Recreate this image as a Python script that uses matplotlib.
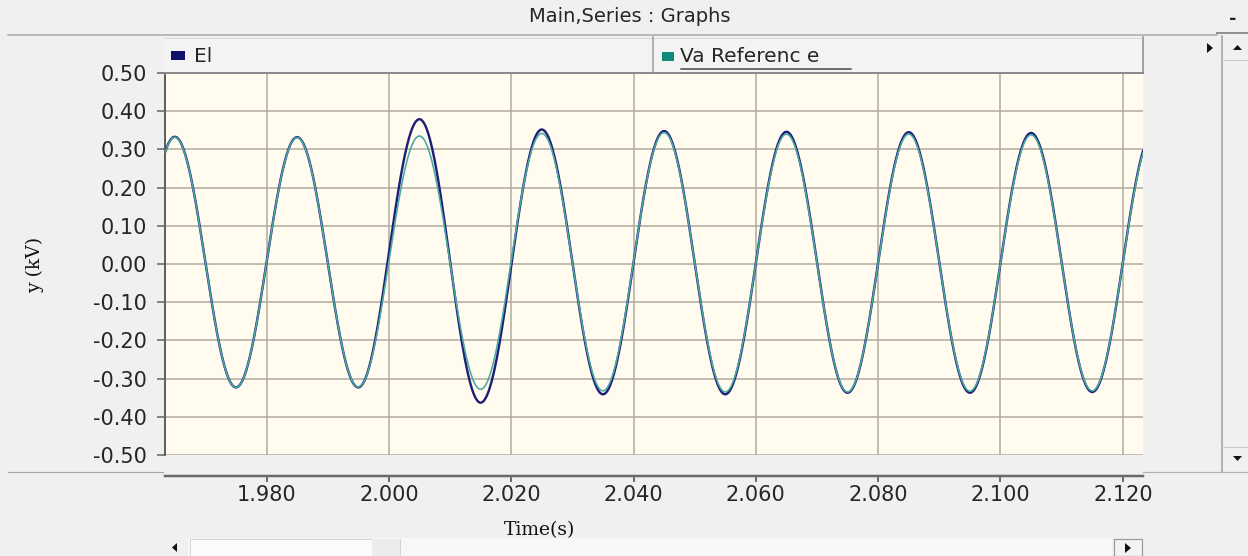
import numpy as np
import matplotlib
matplotlib.use("Agg")
import matplotlib.pyplot as plt
from matplotlib.patches import Rectangle, Polygon
from matplotlib.lines import Line2D

# ---------------- data ----------------
title = "Main,Series : Graphs"
series_names = ["El", "Va Referenc e"]
# times of the successive extrema (s) and their values (kV)
ext_t = [1.955, 1.965, 1.975, 1.985, 1.995, 2.005, 2.015, 2.025, 2.035,
         2.045, 2.055, 2.065, 2.075, 2.085, 2.095, 2.105, 2.115, 2.125]
el_ext = [-0.330, 0.333, -0.323, 0.332, -0.323, 0.379, -0.363, 0.352, -0.341,
          0.348, -0.341, 0.346, -0.337, 0.345, -0.337, 0.343, -0.335, 0.343]
va_ext = [-0.330, 0.332, -0.323, 0.331, -0.322, 0.335, -0.328, 0.342, -0.332,
          0.344, -0.335, 0.340, -0.335, 0.340, -0.333, 0.338, -0.332, 0.338]
x_ticks = [1.98, 2.00, 2.02, 2.04, 2.06, 2.08, 2.10, 2.12]
y_ticks = [0.5, 0.4, 0.3, 0.2, 0.1, 0.0, -0.1, -0.2, -0.3, -0.4, -0.5]
x_range = (1.9634, 2.1233)
y_range = (-0.5, 0.5)
xlabel = "Time(s)"
ylabel = "y (kV)"

# ---------------- layout helpers ----------------
W, H = 1248, 556
DPI = 100
PT = 72.0 / DPI  # px -> pt


def fx(x):
    return x / W


def fy(y):
    return 1 - y / H


def half_cos_wave(tk, vk, t):
    """Smooth half-cosine between successive read extrema."""
    tk = np.asarray(tk)
    vk = np.asarray(vk)
    idx = np.clip(np.searchsorted(tk, t) - 1, 0, len(tk) - 2)
    t0, t1 = tk[idx], tk[idx + 1]
    v0, v1 = vk[idx], vk[idx + 1]
    s = (t - t0) / (t1 - t0)
    return (v0 + v1) / 2 + (v0 - v1) / 2 * np.cos(np.pi * s)


BG = "#f0f0f0"
fig = plt.figure(figsize=(W / DPI, H / DPI), dpi=DPI, facecolor=BG)
plt.rcParams["font.family"] = ["DejaVu Sans"]

# ---------------- main axes ----------------
ax = fig.add_axes([fx(165), fy(455), (1143 - 165) / W, (455 - 73) / H])
ax.set_facecolor("#fffbef")

t = np.linspace(x_range[0], x_range[1], 1600)
el = half_cos_wave(ext_t, el_ext, t)
va = half_cos_wave(ext_t, va_ext, t)
ax.plot(t, el, color="#1e1e78", lw=2.4 * PT, zorder=3)
ax.plot(t, va, color="#4aa9a0", lw=1.6 * PT, zorder=4)

ax.set_xlim(*x_range)
ax.set_ylim(*y_range)
ax.set_xticks(x_ticks)
ax.set_xticklabels([f"{v:.3f}" for v in x_ticks])
ax.set_yticks(y_ticks)
ax.set_yticklabels([f"{v:.2f}" for v in y_ticks])
ax.grid(True, color="#b3ada2", lw=1.6 * PT)
ax.set_axisbelow(True)

for s in ["top", "right"]:
    ax.spines[s].set_visible(False)
ax.spines["left"].set_color("#606060")
ax.spines["left"].set_linewidth(2 * PT)
ax.spines["bottom"].set_position(("outward", 21 * PT))
ax.spines["bottom"].set_color("#6a6a6a")
ax.spines["bottom"].set_linewidth(2.5 * PT)
ax.tick_params(axis="y", length=8 * PT, width=1.5 * PT, color="#606060",
               pad=10 * PT, labelsize=15, labelcolor="#262626")
ax.tick_params(axis="x", length=6 * PT, width=1.8 * PT, color="#606060",
               pad=3 * PT, labelsize=15, labelcolor="#262626")

# axis labels (serif)
fig.text(fx(35), fy(265), ylabel, rotation=90, ha="center", va="center",
         family="DejaVu Serif", fontsize=13.5, color="#111111")
fig.text(fx(540), fy(530), xlabel, ha="center", va="center",
         family="DejaVu Serif", fontsize=13.5, color="#111111")

# ---------------- title bar ----------------
fig.text(fx(630), fy(17), title, ha="center", va="center", fontsize=14,
         color="#262626")
fig.add_artist(Line2D([fx(8), fx(1217)], [fy(35), fy(35)], color="#a8a8a8",
                      lw=1.5 * PT))
fig.text(fx(1233), fy(19), "-", ha="center", va="center", fontsize=13,
         color="#222222", weight="bold")
fig.add_artist(Line2D([fx(1217), fx(1248)], [fy(33), fy(33)], color="#909090",
                      lw=2 * PT))

# ---------------- legend bar ----------------
fig.add_artist(Rectangle((fx(165), fy(73)), (1143 - 165) / W, 35 / H,
                         transform=fig.transFigure, facecolor="#f3f3f3",
                         edgecolor="none"))
fig.add_artist(Line2D([fx(165), fx(1143)], [fy(37.5), fy(37.5)], color="#d8d8d8",
                      lw=1 * PT))
fig.add_artist(Line2D([fx(165), fx(1143)], [fy(72.5), fy(72.5)], color="#8a8a8a",
                      lw=2 * PT))
fig.add_artist(Line2D([fx(653), fx(653)], [fy(37), fy(73)], color="#9a9a9a",
                      lw=1.5 * PT))
fig.add_artist(Line2D([fx(1143), fx(1143)], [fy(37), fy(73)], color="#8a8a8a",
                      lw=1.5 * PT))

fig.add_artist(Rectangle((fx(171), fy(60)), 14 / W, 9 / H,
                         transform=fig.transFigure, facecolor="#10106e",
                         edgecolor="none"))
fig.text(fx(194), fy(56), series_names[0], ha="left", va="center",
         fontsize=14.5, color="#262626")
fig.add_artist(Rectangle((fx(662), fy(61)), 12 / W, 9 / H,
                         transform=fig.transFigure, facecolor="#0d8c7c",
                         edgecolor="none"))
fig.text(fx(680), fy(57), series_names[1], ha="left", va="center",
         fontsize=14.5, color="#262626")
fig.add_artist(Line2D([fx(681), fx(851)], [fy(69), fy(69)], color="#444444",
                      lw=1.5 * PT))

# ---------------- right side bits ----------------
fig.add_artist(Polygon([[fx(1207), fy(43)], [fx(1207), fy(53)], [fx(1213), fy(48)]],
                       closed=True, transform=fig.transFigure,
                       facecolor="#111111", edgecolor="none"))
fig.add_artist(Line2D([fx(1222), fx(1222)], [fy(36), fy(472)], color="#a0a0a0",
                      lw=1.5 * PT))
fig.add_artist(Line2D([fx(1222), fx(1248)], [fy(60), fy(60)], color="#c8c8c8",
                      lw=1 * PT))
fig.add_artist(Line2D([fx(1222), fx(1248)], [fy(447), fy(447)], color="#c8c8c8",
                      lw=1 * PT))
fig.add_artist(Polygon([[fx(1233), fy(50)], [fx(1242), fy(50)], [fx(1237.5), fy(45)]],
                       closed=True, transform=fig.transFigure,
                       facecolor="#111111", edgecolor="none"))
fig.add_artist(Polygon([[fx(1233), fy(456)], [fx(1242), fy(456)], [fx(1237.5), fy(461)]],
                       closed=True, transform=fig.transFigure,
                       facecolor="#111111", edgecolor="none"))
fig.add_artist(Line2D([fx(8), fx(163)], [fy(472), fy(472)], color="#a8a8a8",
                      lw=1.2 * PT))
fig.add_artist(Line2D([fx(1143), fx(1248)], [fy(472), fy(472)], color="#b0b0b0",
                      lw=1.2 * PT))

# ---------------- bottom scrollbar ----------------
fig.add_artist(Rectangle((fx(188), fy(556)), (1112 - 188) / W, 18 / H,
                         transform=fig.transFigure, facecolor="#f7f7f7",
                         edgecolor="none"))
fig.add_artist(Rectangle((fx(190), fy(556)), (400 - 190) / W, 17 / H,
                         transform=fig.transFigure, facecolor="#fbfbfb",
                         edgecolor="#d4d4d4", lw=1 * PT))
fig.add_artist(Rectangle((fx(372), fy(556)), (400 - 372) / W, 17 / H,
                         transform=fig.transFigure, facecolor="#ececec",
                         edgecolor="none"))
fig.add_artist(Polygon([[fx(177), fy(543)], [fx(177), fy(552)], [fx(172), fy(547.5)]],
                       closed=True, transform=fig.transFigure,
                       facecolor="#111111", edgecolor="none"))
fig.add_artist(Rectangle((fx(1114), fy(556)), (1142 - 1114) / W, 17 / H,
                         transform=fig.transFigure, facecolor="#f3f3f3",
                         edgecolor="#9a9a9a", lw=1.2 * PT))
fig.add_artist(Polygon([[fx(1125), fy(543)], [fx(1125), fy(553)], [fx(1131), fy(548)]],
                       closed=True, transform=fig.transFigure,
                       facecolor="#111111", edgecolor="none"))

fig.savefig("out.png", dpi=DPI, facecolor=BG)
